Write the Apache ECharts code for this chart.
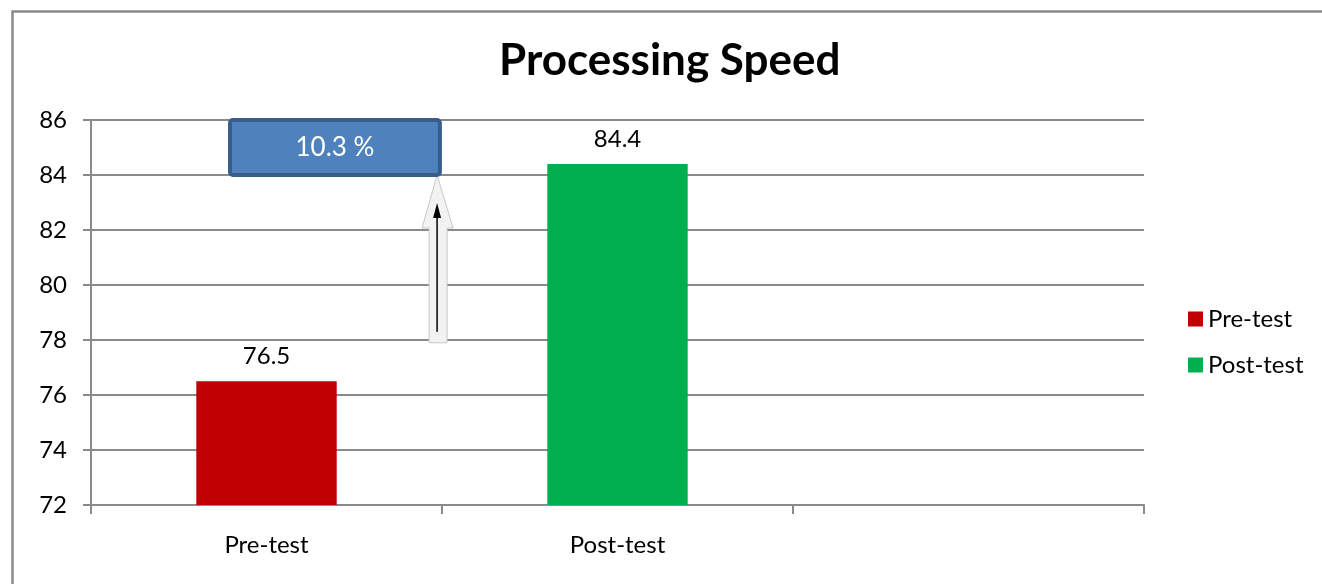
<!DOCTYPE html>
<html>
<head>
<meta charset="utf-8">
<script src="https://cdn.jsdelivr.net/npm/echarts@6/dist/echarts.min.js"></script>
<style>
html,body{margin:0;padding:0;background:#fff;}
#c{width:1322px;height:584px;}
</style>
</head>
<body>
<div id="c"></div>
<script>
// ---- data ----
var categories = ['Pre-test', 'Post-test', ''];
var seriesNames = ['Pre-test', 'Post-test'];
var preValues = [76.5, '-', '-'];
var postValues = ['-', 84.4, '-'];
var yTicks = { min: 72, max: 86, interval: 2 };
var changeLabel = '10.3 %';
// annotation anchors (data units: category index offset, value)
var boxRange = { x0: -0.104, x1: 0.494, y0: 84, y1: 86 };
var arrowRange = { x: 0.486, y0: 77.9, y1: 84 };

var FONT = 'Lato';
var gridColor = '#8a8a8a';

var chart = echarts.init(document.getElementById('c'), null, { renderer: 'canvas' });
var option = {
  animation: false,
  backgroundColor: '#fff',
  title: {
    text: 'Processing Speed',
    left: 494,
    top: 34,
    textStyle: { fontFamily: FONT, fontWeight: 'bold', fontSize: 44, color: '#000' }
  },
  legend: {
    orient: 'vertical',
    left: 1183,
    top: 302,
    itemWidth: 15,
    itemHeight: 15,
    itemGap: 22,
    icon: 'rect',
    data: seriesNames,
    textStyle: { fontFamily: FONT, fontSize: 24, color: '#000', padding: [0, 0, 0, 0] }
  },
  grid: { left: 91, right: 178, top: 120, bottom: 79, containLabel: false, outerBoundsMode: 'none' },
  xAxis: {
    type: 'category',
    data: categories,
    axisLine: { lineStyle: { color: gridColor, width: 2 } },
    axisTick: { show: true, length: 9, lineStyle: { color: gridColor, width: 2 } },
    axisLabel: { fontFamily: FONT, fontSize: 24, color: '#000', margin: 28 }
  },
  yAxis: {
    type: 'value',
    min: yTicks.min,
    max: yTicks.max,
    interval: yTicks.interval,
    axisLine: { show: true, lineStyle: { color: gridColor, width: 2 } },
    axisTick: { show: true, length: 8, lineStyle: { color: gridColor, width: 2 } },
    splitLine: { lineStyle: { color: gridColor, width: 2 } },
    axisLabel: { fontFamily: FONT, fontSize: 24, color: '#000', margin: 24 }
  },
  series: [
    {
      name: seriesNames[0], type: 'bar', data: preValues,
      barWidth: '40%', barGap: '-100%',
      itemStyle: { color: '#c00000' },
      label: { show: true, position: 'top', distance: 13, fontFamily: FONT, fontSize: 24, color: '#000' }
    },
    {
      name: seriesNames[1], type: 'bar', data: postValues,
      barWidth: '40%', barGap: '-100%',
      itemStyle: { color: '#00b050' },
      label: { show: true, position: 'top', distance: 13, fontFamily: FONT, fontSize: 24, color: '#000' }
    }
  ]
};
chart.setOption(option);

function px(catPos, val) {
  var c0 = chart.convertToPixel({ xAxisIndex: 0 }, 0);
  var c1 = chart.convertToPixel({ xAxisIndex: 0 }, 1);
  var band = c1 - c0;
  var y = chart.convertToPixel({ yAxisIndex: 0 }, val);
  return [c0 + catPos * band, y];
}

var b0 = px(boxRange.x0, boxRange.y1);
var b1 = px(boxRange.x1, boxRange.y0);
var aTop = px(arrowRange.x, arrowRange.y1);
var aBot = px(arrowRange.x, arrowRange.y0);
var ax = aTop[0], ty = aTop[1], by = aBot[1];

chart.setOption({
  graphic: [
    { type: 'rect', left: 10, top: 9, silent: true, z: 0,
      shape: { x: 0, y: 0, width: 1400, height: 700 },
      style: { fill: 'none', stroke: '#8a8a8a', lineWidth: 2.5 } },
    { type: 'polygon', z: 10,
      shape: { points: [[ax, ty], [ax + 16, ty + 53], [ax + 10, ty + 53], [ax + 10, by], [ax - 8, by], [ax - 8, ty + 53], [ax - 15, ty + 53]] },
      style: { fill: '#f2f2f2', stroke: '#c8c8c8', lineWidth: 1 } },
    { type: 'line', z: 11,
      shape: { x1: ax, y1: by - 11, x2: ax, y2: ty + 40 },
      style: { stroke: '#000', lineWidth: 1.5 } },
    { type: 'polygon', z: 11,
      shape: { points: [[ax, ty + 28], [ax + 4, ty + 43], [ax - 4, ty + 43]] },
      style: { fill: '#000' } },
    { type: 'rect', z: 12,
      shape: { x: b0[0], y: b0[1], width: b1[0] - b0[0], height: b1[1] - b0[1], r: 3 },
      style: { fill: '#4f81bd', stroke: '#385d8a', lineWidth: 4 } },
    { type: 'text', z: 13,
      x: (b0[0] + b1[0]) / 2, y: (b0[1] + b1[1]) / 2,
      style: { text: changeLabel, fill: '#fff', fontFamily: FONT, fontSize: 26, align: 'center', verticalAlign: 'middle' } }
  ]
});
</script>
</body>
</html>
